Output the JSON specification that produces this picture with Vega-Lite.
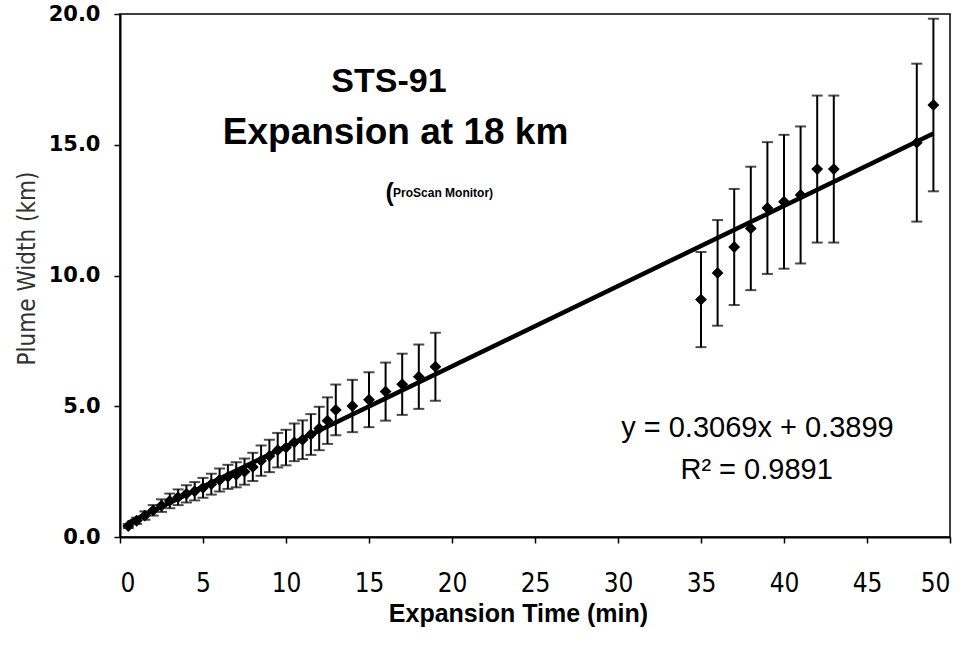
{
  "$schema": "https://vega.github.io/schema/vega-lite/v6.json",
  "width": 830,
  "height": 523,
  "autosize": "none",
  "padding": {"left": 120, "top": 14, "right": 16, "bottom": 116},
  "background": "white",
  "config": {
    "font": "Liberation Sans",
    "view": {"stroke": "black", "strokeWidth": 1.5},
    "axis": {
      "grid": false,
      "domainColor": "black",
      "domainWidth": 2,
      "tickColor": "black",
      "tickWidth": 1.5,
      "tickSize": 6,
      "labelColor": "black",
      "titleColor": "black"
    }
  },
  "datasets": {
    "obs": [
      {"t": 0.5, "w": 0.42, "lo": 0.34, "hi": 0.50},
      {"t": 1.0, "w": 0.62, "lo": 0.50, "hi": 0.74},
      {"t": 1.5, "w": 0.82, "lo": 0.66, "hi": 0.98},
      {"t": 2.0, "w": 1.02, "lo": 0.82, "hi": 1.22},
      {"t": 2.5, "w": 1.20, "lo": 0.96, "hi": 1.44},
      {"t": 3.0, "w": 1.38, "lo": 1.10, "hi": 1.66},
      {"t": 3.5, "w": 1.52, "lo": 1.22, "hi": 1.82},
      {"t": 4.0, "w": 1.65, "lo": 1.32, "hi": 1.98},
      {"t": 4.5, "w": 1.75, "lo": 1.40, "hi": 2.10},
      {"t": 5.0, "w": 1.88, "lo": 1.50, "hi": 2.26},
      {"t": 5.5, "w": 2.02, "lo": 1.62, "hi": 2.42},
      {"t": 6.0, "w": 2.18, "lo": 1.74, "hi": 2.62},
      {"t": 6.5, "w": 2.30, "lo": 1.84, "hi": 2.76},
      {"t": 7.0, "w": 2.38, "lo": 1.90, "hi": 2.86},
      {"t": 7.5, "w": 2.50, "lo": 2.00, "hi": 3.00},
      {"t": 8.0, "w": 2.68, "lo": 2.14, "hi": 3.22},
      {"t": 8.5, "w": 2.92, "lo": 2.34, "hi": 3.50},
      {"t": 9.0, "w": 3.10, "lo": 2.48, "hi": 3.72},
      {"t": 9.5, "w": 3.32, "lo": 2.66, "hi": 3.98},
      {"t": 10.0, "w": 3.42, "lo": 2.74, "hi": 4.10},
      {"t": 10.5, "w": 3.62, "lo": 2.90, "hi": 4.34},
      {"t": 11.0, "w": 3.72, "lo": 2.98, "hi": 4.46},
      {"t": 11.5, "w": 3.92, "lo": 3.14, "hi": 4.70},
      {"t": 12.0, "w": 4.15, "lo": 3.32, "hi": 4.98},
      {"t": 12.5, "w": 4.45, "lo": 3.56, "hi": 5.34},
      {"t": 13, "w": 4.86, "lo": 3.89, "hi": 5.83},
      {"t": 14, "w": 5.01, "lo": 4.01, "hi": 6.01},
      {"t": 15, "w": 5.25, "lo": 4.20, "hi": 6.30},
      {"t": 16, "w": 5.56, "lo": 4.45, "hi": 6.67},
      {"t": 17, "w": 5.84, "lo": 4.67, "hi": 7.01},
      {"t": 18, "w": 6.13, "lo": 4.90, "hi": 7.36},
      {"t": 19, "w": 6.51, "lo": 5.21, "hi": 7.81},
      {"t": 35, "w": 9.08, "lo": 7.26, "hi": 10.90},
      {"t": 36, "w": 10.10, "lo": 8.08, "hi": 12.12},
      {"t": 37, "w": 11.09, "lo": 8.87, "hi": 13.31},
      {"t": 38, "w": 11.80, "lo": 9.44, "hi": 14.16},
      {"t": 39, "w": 12.58, "lo": 10.06, "hi": 15.10},
      {"t": 40, "w": 12.82, "lo": 10.26, "hi": 15.38},
      {"t": 41, "w": 13.08, "lo": 10.46, "hi": 15.70},
      {"t": 42, "w": 14.07, "lo": 11.26, "hi": 16.88},
      {"t": 43, "w": 14.07, "lo": 11.26, "hi": 16.88},
      {"t": 48, "w": 15.08, "lo": 12.06, "hi": 18.10},
      {"t": 49, "w": 16.52, "lo": 13.22, "hi": 19.82}
    ],
    "fit": [
      {"t": 0.5, "w": 0.543},
      {"t": 49, "w": 15.428}
    ],
    "ann": [
      {"kind": "big1", "t": 16.2, "w": 17.4, "label": "STS-91"},
      {"kind": "big2", "t": 16.6, "w": 15.45, "label": "Expansion at 18 km"},
      {"kind": "paren", "t": 16.25, "w": 13.15, "label": "("},
      {"kind": "small", "t": 16.45, "w": 13.14, "label": "ProScan Monitor)"},
      {"kind": "eq", "t": 38.4, "w": 4.17, "label": "y = 0.3069x + 0.3899"},
      {"kind": "eq", "t": 38.35, "w": 2.56, "label": "R² = 0.9891"}
    ]
  },
  "layer": [
    {
      "data": {"name": "obs"},
      "mark": {"type": "errorbar", "color": "black", "thickness": 2, "ticks": {"size": 11, "thickness": 2, "color": "black"}},
      "encoding": {
        "x": {"field": "t", "type": "quantitative", "scale": {"domain": [0, 50], "nice": false},
          "axis": {"values": [0, 5, 10, 15, 20, 25, 30, 35, 40, 45, 50], "title": "Expansion Time (min)",
            "labelFont": "DejaVu Sans Condensed, Roboto Condensed, Liberation Sans", "labelFontSize": 26, "labelPadding": 27,
            "titleFont": "Liberation Sans", "titleFontWeight": "bold", "titleFontSize": 25,
            "titleX": 398, "titleY": 76, "titleBaseline": "middle", "titleAlign": "center"}},
        "y": {"field": "lo", "type": "quantitative", "scale": {"domain": [0, 20], "nice": false},
          "axis": {"values": [0, 5, 10, 15, 20], "format": ".1f", "title": "Plume Width (km)",
            "labelFont": "DejaVu Sans", "labelFontWeight": "bold", "labelFontSize": 21, "labelPadding": 14,
            "titleFont": "DejaVu Sans Condensed, Roboto Condensed, Liberation Sans", "titleFontWeight": "normal", "titleFontSize": 24, "titleColor": "#333333",
            "titleX": -93, "titleY": 254, "titleBaseline": "middle", "titleAlign": "center", "titleAngle": -90}},
        "y2": {"field": "hi"}
      }
    },
    {
      "data": {"name": "fit"},
      "mark": {"type": "line", "color": "black", "strokeWidth": 4.5},
      "encoding": {
        "x": {"field": "t", "type": "quantitative"},
        "y": {"field": "w", "type": "quantitative"}
      }
    },
    {
      "data": {"name": "obs"},
      "mark": {"type": "point", "shape": "diamond", "filled": true, "color": "black", "opacity": 1, "size": 140},
      "encoding": {
        "x": {"field": "t", "type": "quantitative"},
        "y": {"field": "w", "type": "quantitative"}
      }
    },
    {
      "data": {"name": "ann"},
      "transform": [{"filter": "datum.kind === 'big1'"}],
      "mark": {"type": "text", "font": "Liberation Sans", "fontWeight": "bold", "fontSize": 34, "align": "center", "baseline": "middle", "color": "black"},
      "encoding": {
        "x": {"field": "t", "type": "quantitative"},
        "y": {"field": "w", "type": "quantitative"},
        "text": {"field": "label"}
      }
    },
    {
      "data": {"name": "ann"},
      "transform": [{"filter": "datum.kind === 'big2'"}],
      "mark": {"type": "text", "font": "Liberation Sans", "fontWeight": "bold", "fontSize": 37, "align": "center", "baseline": "middle", "color": "black"},
      "encoding": {
        "x": {"field": "t", "type": "quantitative"},
        "y": {"field": "w", "type": "quantitative"},
        "text": {"field": "label"}
      }
    },
    {
      "data": {"name": "ann"},
      "transform": [{"filter": "datum.kind === 'paren'"}],
      "mark": {"type": "text", "font": "Liberation Sans", "fontWeight": "bold", "fontSize": 25, "align": "center", "baseline": "middle", "color": "black"},
      "encoding": {
        "x": {"field": "t", "type": "quantitative"},
        "y": {"field": "w", "type": "quantitative"},
        "text": {"field": "label"}
      }
    },
    {
      "data": {"name": "ann"},
      "transform": [{"filter": "datum.kind === 'small'"}],
      "mark": {"type": "text", "font": "Liberation Sans", "fontWeight": "bold", "fontSize": 12, "align": "left", "baseline": "middle", "color": "black"},
      "encoding": {
        "x": {"field": "t", "type": "quantitative"},
        "y": {"field": "w", "type": "quantitative"},
        "text": {"field": "label"}
      }
    },
    {
      "data": {"name": "ann"},
      "transform": [{"filter": "datum.kind === 'eq'"}],
      "mark": {"type": "text", "font": "Liberation Sans", "fontSize": 29, "align": "center", "baseline": "middle", "color": "black"},
      "encoding": {
        "x": {"field": "t", "type": "quantitative"},
        "y": {"field": "w", "type": "quantitative"},
        "text": {"field": "label"}
      }
    }
  ]
}
